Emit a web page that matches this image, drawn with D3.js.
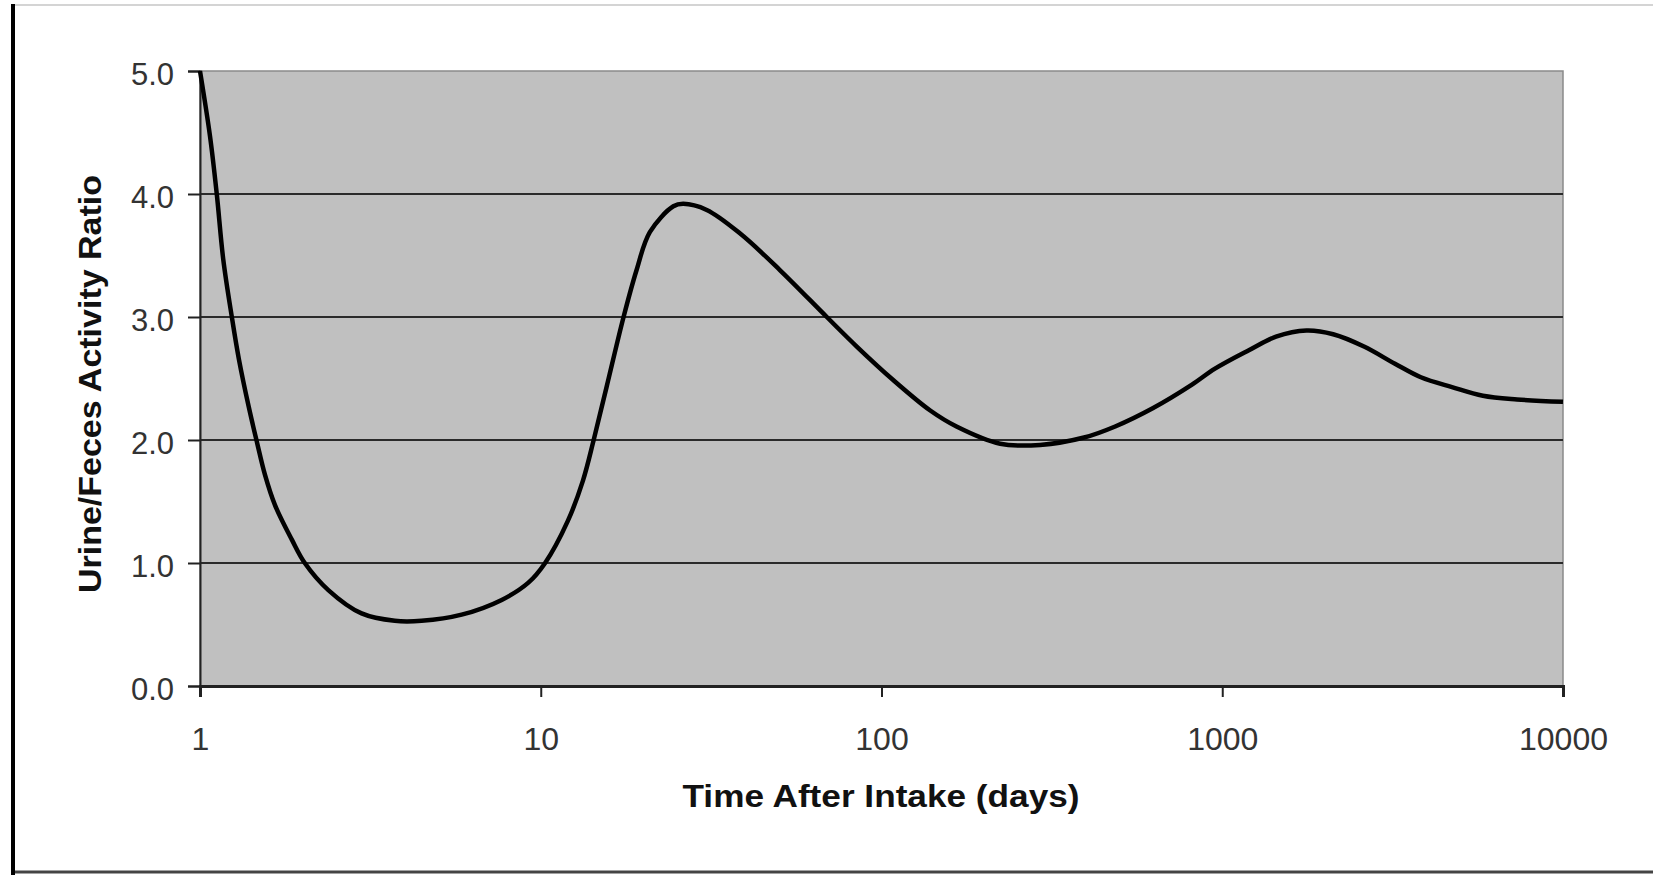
<!DOCTYPE html>
<html>
<head>
<meta charset="utf-8">
<script src="https://d3js.org/d3.v7.min.js"></script>
<style>
  html, body { margin: 0; padding: 0; background: #fff; }
  svg { display: block; font-family: "Liberation Sans", Arial, sans-serif; }
</style>
</head>
<body>
<svg id="chart" width="1653" height="875"></svg>
<script>
// values
const days = [1, 1.07, 1.12, 1.17, 1.24, 1.30, 1.39, 1.47, 1.55, 1.66, 1.86, 2.03, 2.38, 2.98,
  3.73, 4.47, 5.86, 7.68, 9.2, 10.3, 12.0, 13.3, 14.3, 15.6, 17.5, 19.1, 20.9, 24.5, 26.2,
  30.7, 38.4, 50.4, 69.1, 84.6, 108, 139, 166, 223, 292, 393, 485, 627, 815, 952, 1197,
  1438, 1767, 2116, 2606, 3213, 3828, 4723, 5820, 7330, 10000];
const ratio = [5.0, 4.47, 4.0, 3.47, 3.0, 2.66, 2.27, 1.98, 1.72, 1.47, 1.19, 1.0, 0.78, 0.59,
  0.53, 0.53, 0.58, 0.70, 0.84, 1.0, 1.34, 1.67, 2.0, 2.43, 3.0, 3.38, 3.69, 3.90, 3.92,
  3.87, 3.68, 3.38, 3.0, 2.76, 2.49, 2.24, 2.11, 1.97, 1.96, 2.02, 2.11, 2.26, 2.45, 2.58, 2.73,
  2.84, 2.89, 2.86, 2.76, 2.62, 2.51, 2.43, 2.36, 2.33, 2.31];
const xTicks = [1, 10, 100, 1000, 10000];
const yTicks = [0, 1, 2, 3, 4, 5];
const xTitle = "Time After Intake (days)";
const yTitle = "Urine/Feces Activity Ratio";

const svg = d3.select("#chart");
const W = 1653, H = 875;
const plot = { left: 200, right: 1563, top: 71, bottom: 686 };

// frame around the picture
svg.append("line").attr("x1", 12).attr("x2", W).attr("y1", 5).attr("y2", 5)
  .attr("stroke", "#d4d4d4").attr("stroke-width", 2);
svg.append("line").attr("x1", 12).attr("x2", W).attr("y1", 872).attr("y2", 872)
  .attr("stroke", "#444").attr("stroke-width", 3);
svg.append("line").attr("x1", 13).attr("x2", 13).attr("y1", 4).attr("y2", H)
  .attr("stroke", "#000").attr("stroke-width", 4);

const x = d3.scaleLog().domain([1, 10000]).range([plot.left, plot.right]);
const y = d3.scaleLinear().domain([0, 5]).range([plot.bottom, plot.top]);

// plot area
svg.append("rect")
  .attr("x", plot.left).attr("y", plot.top)
  .attr("width", plot.right - plot.left).attr("height", plot.bottom - plot.top)
  .attr("fill", "#c0c0c0").attr("stroke", "#8a8a8a").attr("stroke-width", 1.5);

// horizontal gridlines
svg.append("g").selectAll("line")
  .data(yTicks.filter(d => d > 0 && d < 5))
  .join("line")
  .attr("x1", plot.left).attr("x2", plot.right)
  .attr("y1", d => y(d)).attr("y2", d => y(d))
  .attr("stroke", "#2a2a2a").attr("stroke-width", 2);

// y axis
const yAxis = svg.append("g")
  .attr("transform", `translate(${plot.left},0)`)
  .call(d3.axisLeft(y).tickValues(yTicks).tickSize(12).tickPadding(14).tickFormat(d3.format(".1f")));
yAxis.select(".domain").attr("stroke", "#222").attr("stroke-width", 2);
yAxis.selectAll(".tick line").attr("stroke", "#222").attr("stroke-width", 2);
yAxis.selectAll(".tick text")
  .attr("font-size", 31).attr("fill", "#333").attr("dy", "0.45em")
  .attr("font-family", "'Liberation Sans', Arial, sans-serif");

// x axis
const xAxis = svg.append("g")
  .attr("transform", `translate(0,${plot.bottom})`)
  .call(d3.axisBottom(x).tickValues(xTicks).tickSize(11).tickPadding(30).tickFormat(d3.format("d")));
xAxis.select(".domain").attr("stroke", "#222").attr("stroke-width", 3);
xAxis.selectAll(".tick line").attr("stroke", "#222").attr("stroke-width", 2);
xAxis.selectAll(".tick text")
  .attr("font-size", 32).attr("fill", "#333")
  .attr("font-family", "'Liberation Sans', Arial, sans-serif");

// the curve
const line = d3.line()
  .x((d, i) => x(days[i]))
  .y(d => y(d))
  .curve(d3.curveCatmullRom.alpha(0.5));

svg.append("path")
  .datum(ratio)
  .attr("d", line)
  .attr("fill", "none")
  .attr("stroke", "#000")
  .attr("stroke-width", 4.5)
  .attr("stroke-linejoin", "round");

// axis titles
svg.append("text")
  .attr("x", 881).attr("y", 807)
  .attr("text-anchor", "middle")
  .attr("font-size", 32).attr("font-weight", "bold").attr("fill", "#111")
  .attr("textLength", 397).attr("lengthAdjust", "spacingAndGlyphs")
  .text(xTitle);

svg.append("text")
  .attr("transform", "translate(101,384) rotate(-90)")
  .attr("text-anchor", "middle")
  .attr("font-size", 32).attr("font-weight", "bold").attr("fill", "#111")
  .attr("textLength", 418).attr("lengthAdjust", "spacingAndGlyphs")
  .text(yTitle);
</script>
</body>
</html>
